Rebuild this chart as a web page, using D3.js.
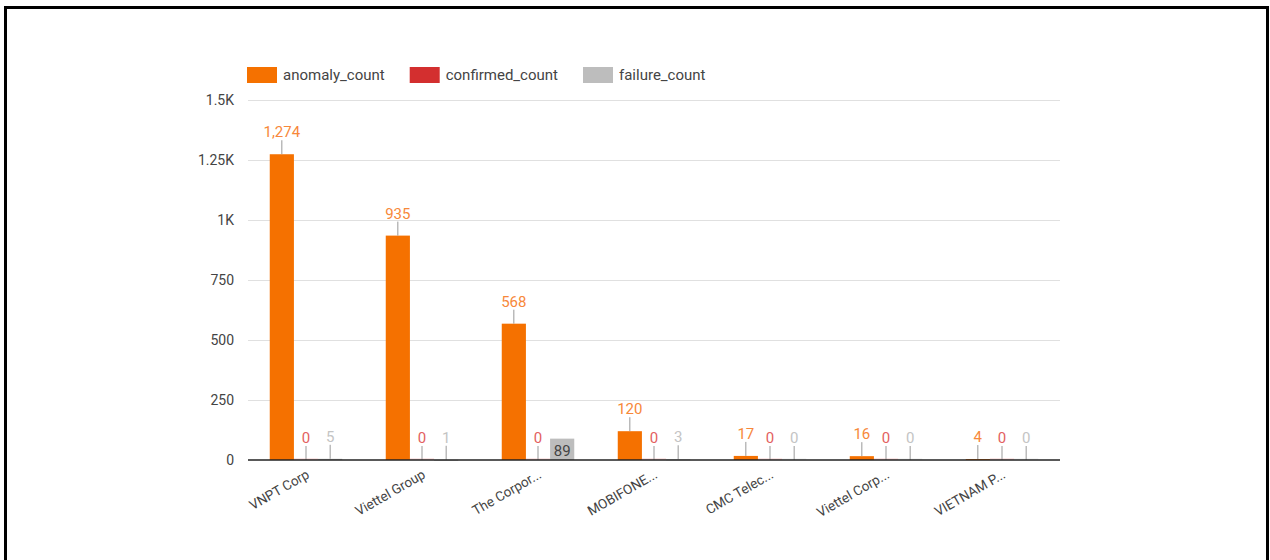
<!DOCTYPE html>
<html>
<head>
<meta charset="utf-8">
<script src="https://cdn.jsdelivr.net/npm/d3@7"></script>
<style>
  html, body { margin: 0; padding: 0; background: #fff; }
  svg { display: block; font-family: Roboto, "Noto Sans", sans-serif; }
</style>
</head>
<body>
<svg id="chart" width="1270" height="560"></svg>
<script>
const categories = ["VNPT Corp", "Viettel Group", "The Corpor...", "MOBIFONE...", "CMC Telec...", "Viettel Corp...", "VIETNAM P..."];
const seriesNames = ["anomaly_count", "confirmed_count", "failure_count"];
const anomalyCount = [1274, 935, 568, 120, 17, 16, 4];
const confirmedCount = [0, 0, 0, 0, 0, 0, 0];
const failureCount = [5, 1, 89, 3, 0, 0, 0];
const yTickValues = [0, 250, 500, 750, 1000, 1250, 1500];
const yTickLabels = ["0", "250", "500", "750", "1K", "1.25K", "1.5K"];

const seriesValues = [anomalyCount, confirmedCount, failureCount];
const colors = ["#f57100", "#d32f2f", "#bdbdbd"];
const labelColors = ["#f7883a", "#e35f5f", "#c4c4c4"];

const svg = d3.select("#chart");

// outer frame
svg.append("rect")
  .attr("x", 5.5).attr("y", 7.5)
  .attr("width", 1262).attr("height", 560)
  .attr("fill", "none").attr("stroke", "#000").attr("stroke-width", 3);

const plotLeft = 248, plotRight = 1060, plotTop = 100, plotBottom = 460;

const x0 = d3.scaleBand().domain(categories).range([plotLeft, plotRight]).padding(0);
const x1 = d3.scaleBand().domain(seriesNames).range([0, x0.bandwidth()]).paddingInner(0).paddingOuter(0.9);
const y = d3.scaleLinear().domain([0, 1500]).range([plotBottom, plotTop]);

// gridlines
svg.append("g").selectAll("line").data(yTickValues.filter(v => v > 0)).join("line")
  .attr("x1", plotLeft).attr("x2", plotRight)
  .attr("y1", d => y(d) + 0.5).attr("y2", d => y(d) + 0.5)
  .attr("stroke", "#e0e0e0").attr("stroke-width", 1);

// y axis labels
const yAxis = d3.axisLeft(y).tickValues(yTickValues)
  .tickFormat((d, i) => yTickLabels[i]).tickSize(0).tickPadding(14);
const yg = svg.append("g").attr("transform", `translate(${plotLeft},0)`).call(yAxis);
yg.select(".domain").remove();
yg.selectAll("text").attr("font-size", 14).attr("fill", "#444").attr("font-family", "Roboto");

const cells = [];
categories.forEach((c, ci) => {
  seriesNames.forEach((s, si) => {
    cells.push({ cat: c, ci, s, si, v: seriesValues[si][ci] });
  });
});

// bars
const barG = svg.append("g");
barG.selectAll("rect").data(cells).join("rect")
  .attr("x", d => x0(d.cat) + x1(d.s))
  .attr("width", x1.bandwidth())
  .attr("y", d => d.v > 0 ? y(d.v) : plotBottom - 1.5)
  .attr("height", d => d.v > 0 ? Math.max(1, plotBottom - y(d.v)) : 1.5)
  .attr("fill", d => colors[d.si])
  .attr("opacity", d => d.v > 0 ? 1 : 0.25);

// data labels
const lab = svg.append("g");
cells.forEach(d => {
  const cx = x0(d.cat) + x1(d.s) + x1.bandwidth() / 2;
  const txt = d3.format(",")(d.v);
  const h = plotBottom - y(d.v);
  const inside = txt.length <= 2 && h >= 18;
  if (inside) {
    lab.append("text").attr("x", cx).attr("y", y(d.v) + 17)
      .attr("text-anchor", "middle").attr("font-size", 15).attr("fill", "#444")
      .text(txt);
  } else {
    const topY = y(d.v);
    lab.append("line").attr("x1", cx).attr("x2", cx)
      .attr("y1", topY).attr("y2", topY - 14)
      .attr("stroke", "#999").attr("stroke-width", 1);
    lab.append("text").attr("x", cx).attr("y", topY - 17)
      .attr("text-anchor", "middle").attr("font-size", 15).attr("fill", labelColors[d.si])
      .text(txt);
  }
});

// baseline
svg.append("line").attr("x1", plotLeft).attr("x2", plotRight)
  .attr("y1", plotBottom).attr("y2", plotBottom)
  .attr("stroke", "#222").attr("stroke-width", 1.5);

// x labels
svg.append("g").selectAll("text").data(categories).join("text")
  .attr("transform", d => `translate(${x0(d) + x0.bandwidth() / 2 + 2},${plotBottom + 13}) rotate(-30)`)
  .attr("text-anchor", "end").attr("dy", "0.35em")
  .attr("font-size", 13.5).attr("fill", "#444")
  .text(d => d);

// legend
const leg = svg.append("g");
let lx = 247;
seriesNames.forEach((s, i) => {
  leg.append("rect").attr("x", lx).attr("y", 67).attr("width", 30).attr("height", 16)
    .attr("fill", colors[i]);
  const t = leg.append("text").attr("x", lx + 36).attr("y", 75).attr("dy", "0.35em")
    .attr("font-size", 15).attr("fill", "#444").text(s);
  lx += 36 + t.node().getComputedTextLength() + 25;
});
</script>
</body>
</html>
